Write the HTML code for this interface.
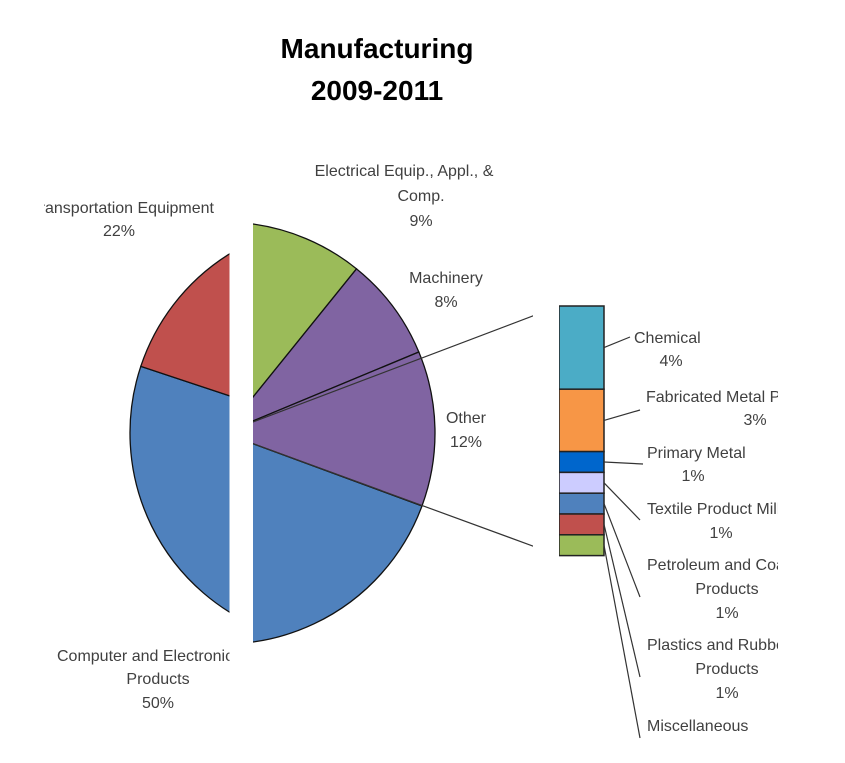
<!DOCTYPE html>
<html><head><meta charset="utf-8"><style>
html,body{margin:0;padding:0;background:#fff;}
svg{display:block;font-family:"Liberation Sans",Arial,sans-serif;}
</style></head><body>
<svg id="chart" width="845" height="763" viewBox="0 0 845 763">
<defs>
<clipPath id="clipL"><rect x="0" y="0" width="229.5" height="763"/></clipPath>
<clipPath id="clipR"><rect x="253" y="0" width="280" height="763"/></clipPath>
<clipPath id="clipBar"><rect x="559" y="0" width="286" height="763"/></clipPath>
<clipPath id="clipLbl"><rect x="0" y="0" width="778" height="763"/></clipPath>
<clipPath id="clipLeftTxt"><rect x="44" y="0" width="185.5" height="763"/></clipPath>
</defs>
<text x="377" y="58" text-anchor="middle" font-size="28" font-weight="bold" fill="#000">Manufacturing</text>
<text x="377" y="100" text-anchor="middle" font-size="28" font-weight="bold" fill="#000">2009-2011</text>
<g id="pieL" clip-path="url(#clipL)"></g>
<g id="pieR" clip-path="url(#clipR)"></g>
<g id="bar" clip-path="url(#clipBar)"></g>
<g id="labels" fill="#404040" font-size="16">
<g clip-path="url(#clipLeftTxt)">
<text x="214" y="213" text-anchor="end">Transportation Equipment</text>
<text x="57" y="661">Computer and Electronic</text>
</g>
<text x="119" y="236" text-anchor="middle">22%</text>
<text x="158" y="684" text-anchor="middle">Products</text>
<text x="158" y="708" text-anchor="middle">50%</text>
<text x="404" y="176" text-anchor="middle">Electrical Equip., Appl., &amp;</text>
<text x="421" y="201" text-anchor="middle">Comp.</text>
<text x="421" y="226" text-anchor="middle">9%</text>
<text x="446" y="283" text-anchor="middle">Machinery</text>
<text x="446" y="307" text-anchor="middle">8%</text>
<text x="466" y="423" text-anchor="middle">Other</text>
<text x="466" y="447" text-anchor="middle">12%</text>
<g clip-path="url(#clipLbl)">
<text x="634" y="343">Chemical</text>
<text x="671" y="366" text-anchor="middle">4%</text>
<text x="646" y="402">Fabricated Metal Product</text>
<text x="755" y="425" text-anchor="middle">3%</text>
<text x="647" y="458">Primary Metal</text>
<text x="693" y="481" text-anchor="middle">1%</text>
<text x="647" y="514">Textile Product Mills</text>
<text x="721" y="538" text-anchor="middle">1%</text>
<text x="647" y="570">Petroleum and Coal</text>
<text x="727" y="594" text-anchor="middle">Products</text>
<text x="727" y="618" text-anchor="middle">1%</text>
<text x="647" y="650">Plastics and Rubber</text>
<text x="727" y="674" text-anchor="middle">Products</text>
<text x="727" y="698" text-anchor="middle">1%</text>
<text x="647" y="731">Miscellaneous</text>
</g>
</g>
<g id="leaders" stroke="#333" stroke-width="1.2" fill="none"></g>
</svg>
<script>
const pieCategories = ["Computer and Electronic Products","Transportation Equipment","Electrical Equip., Appl., & Comp.","Machinery","Other"];
const pieValues = [50, 22, 9, 8, 12];
const pieColors = ["#4F81BD","#C0504D","#9BBB59","#8064A2","#8064A2"];
const barCategories = ["Chemical","Fabricated Metal","Primary Metal","Textile Product Mills","Petroleum and Coal Products","Plastics and Rubber Products","Miscellaneous"];
const barValues = [4, 3, 1, 1, 1, 1, 1];
const barColors = ["#4BACC6","#F79646","#0066CC","#CCCCFF","#4F81BD","#C0504D","#9BBB59"];

const NS = "http://www.w3.org/2000/svg";
const R = 211, CY = 433, CXR = 224, CXL = 341;
const startDeg = 20.2;
const pieTotal = pieValues.reduce((a,b)=>a+b,0);
function angleScale(v){ return v / pieTotal * 360; }
function pt(cx, a, r){ const t = a*Math.PI/180; return [cx + r*Math.cos(t), CY + r*Math.sin(t)]; }

function drawPie(g, cx){
  let a = startDeg;
  pieValues.forEach((v,i)=>{
    const b = a + angleScale(v);
    const p1 = pt(cx,a,R), p2 = pt(cx,b,R);
    const large = (b-a) > 180 ? 1 : 0;
    const path = document.createElementNS(NS,"path");
    path.setAttribute("d", `M${cx},${CY} L${p1[0]},${p1[1]} A${R},${R} 0 ${large} 1 ${p2[0]},${p2[1]} Z`);
    path.setAttribute("fill", pieColors[i]);
    path.setAttribute("stroke", "#111");
    path.setAttribute("stroke-width", "1.3");
    
    
    g.appendChild(path);
    a = b;
  });
}
drawPie(document.getElementById("pieL"), CXL);
drawPie(document.getElementById("pieR"), CXR);

// bar
const barTop = 306, barX = 559, barW = 45, pxPer = 20.8;
function barY(cum){ return barTop + cum*pxPer; }
const barG = document.getElementById("bar");
let cum = 0;
const segMid = [];
barValues.forEach((v,i)=>{
  const r = document.createElementNS(NS,"rect");
  r.setAttribute("x", barX); r.setAttribute("y", barY(cum));
  r.setAttribute("width", barW); r.setAttribute("height", v*pxPer);
  r.setAttribute("fill", barColors[i]); r.setAttribute("stroke", "#222"); r.setAttribute("stroke-width", "1.5");
  
  
  barG.appendChild(r);
  segMid.push(barY(cum + v/2));
  cum += v;
});
const barBottom = barY(cum);

// connector lines from pie center through "Other" slice edges to bar corners
const ld = document.getElementById("leaders");
function line(x1,y1,x2,y2,clip){
  const l = document.createElementNS(NS,"line");
  l.setAttribute("x1",x1); l.setAttribute("y1",y1); l.setAttribute("x2",x2); l.setAttribute("y2",y2);
  if(clip) l.setAttribute("clip-path","url(#clipR)");
  
  
  ld.appendChild(l);
}
line(CXR, CY, barX, barTop, true);
line(CXR, CY, barX, barBottom, true);
// leader lines for bar labels
const leaderEnds = [[630,337],[640,410],[643,464],[640,520],[640,597],[640,677],[640,738]];
segMid.forEach((y,i)=>{
  const e = leaderEnds[i];
  line(barX+barW, y, e[0], e[1], false);
});
</script>
</body></html>
